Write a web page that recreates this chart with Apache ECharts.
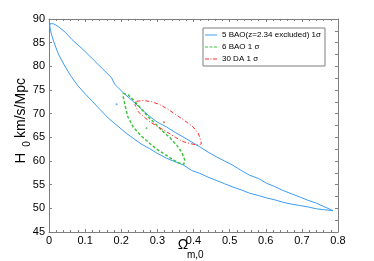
<!DOCTYPE html>
<html>
<head>
<meta charset="utf-8">
<script src="https://cdn.jsdelivr.net/npm/echarts@6/dist/echarts.min.js"></script>
<style>html,body{margin:0;padding:0;background:#fff}#c{width:374px;height:261px}</style>
</head>
<body>
<div id="c"></div>
<script>
// ---- data ----
var xTicks = [0, 0.1, 0.2, 0.3, 0.4, 0.5, 0.6, 0.7, 0.8];
var yTicks = [45, 50, 55, 60, 65, 70, 75, 80, 85, 90];
var legendNames = ['5 BAO(z=2.34 excluded) 1σ', '6 BAO 1 σ', '30 DA 1 σ'];

// 5 BAO contour (closed): Omega_m values and H0 values
var baoOm = [0.003,0.012,0.026,0.045,0.063,0.099,0.136,0.173,0.182,0.207,0.233,0.255,0.279,0.300,0.325,0.350,0.371,0.395,0.417,0.440,0.463,0.486,0.509,0.532,0.555,0.580,0.602,0.625,0.647,0.670,0.694,0.717,0.740,0.760,0.775,0.786,
             0.775,0.763,0.740,0.717,0.694,0.670,0.647,0.625,0.602,0.580,0.555,0.532,0.509,0.486,0.463,0.440,0.417,0.395,0.371,0.350,0.325,0.300,0.279,0.255,0.233,0.210,0.187,0.165,0.141,0.120,0.100,0.080,0.060,0.042,0.026,0.014,0.006,0.002,0.003];
var baoH  = [89.0,89.0,88.4,87.2,85.7,83.2,80.4,77.6,76.2,74.3,72.6,71.0,69.4,68.2,67.2,66.0,65.1,64.0,63.0,61.9,60.9,60.0,59.1,58.0,57.0,56.3,55.3,54.6,53.8,53.1,52.4,51.7,51.1,50.4,49.9,49.5,
             49.6,49.7,49.9,50.3,50.6,50.9,51.3,51.8,52.2,52.7,53.2,53.9,54.5,55.2,55.9,56.6,57.4,58.0,59.2,59.8,60.6,61.6,62.6,63.6,64.8,66.1,67.6,69.0,70.9,72.6,74.2,75.9,78.0,80.3,82.6,85.0,87.0,88.5,89.0];
var baoBestOm = [0.187];
var baoBestH = [72.0];

// 6 BAO contour
var bao6Om = [0.205,0.219,0.242,0.260,0.279,0.298,0.316,0.335,0.353,0.368,0.376,0.373,0.362,0.345,0.325,0.300,0.279,0.255,0.233,0.218,0.210,0.206,0.205];
var bao6H  = [74.3,74.0,72.2,70.6,69.0,67.6,66.2,64.9,63.4,61.8,60.2,59.3,59.5,60.2,61.2,62.4,63.7,65.3,67.2,69.4,71.9,73.4,74.3];
var bao6BestOm = [0.270];
var bao6BestH = [66.9];

// 30 DA contour
var daOm = [0.242,0.261,0.285,0.307,0.330,0.353,0.376,0.399,0.412,0.417,0.422,0.416,0.408,0.390,0.371,0.350,0.325,0.300,0.279,0.260,0.247,0.238,0.242];
var daH  = [72.6,72.8,72.5,71.9,70.9,69.7,68.5,67.2,66.0,65.1,63.7,63.4,63.4,63.7,64.1,65.0,66.2,67.3,68.3,69.5,70.4,71.9,72.6];
var daBestOm = [0.318];
var daBestH = [68.2];

function pairs(a, b){ return a.map(function(v,i){ return [v, b[i]]; }); }

var BLUE = '#3d9cf5', GREEN = '#3cc43c', RED = '#ff2b2b', AX = '#7f7f7f';
var FONT = 'Liberation Sans';

var ICON_SOLID = 'path://M0,0h12v1h-12z';
var ICON_DASH = 'path://M0,0h3v1h-3zM4.5,0h3v1h-3zM9,0h3v1h-3z';
var ICON_DASHDOT = 'path://M0,0h4v1h-4zM5.5,0h1v1h-1zM8,0h4v1h-4z';

var chart = echarts.init(document.getElementById('c'), null, {renderer:'canvas'});
function xAx(pos, showLabel){
  return {
    type:'value', position:pos, min:xTicks[0], max:xTicks[xTicks.length-1], interval:0.1,
    axisLine:{show:true, onZero:false, lineStyle:{color:AX, width:1}},
    axisTick:{show:true, inside:true, length:3, lineStyle:{color:AX}},
    minorTick:{show:true, splitNumber:5, length:2, lineStyle:{color:AX}},
    splitLine:{show:false}, minorSplitLine:{show:false},
    axisLabel:{show:showLabel, color:'#000', fontSize:11, fontFamily:FONT, margin:3,
      formatter:function(v){ return String(Math.round(v*10)/10); }}
  };
}
function yAx(pos, showLabel, minor){
  return {
    type:'value', position:pos, min:yTicks[0], max:yTicks[yTicks.length-1], interval:5,
    axisLine:{show:true, onZero:false, lineStyle:{color:AX, width:1}},
    axisTick:{show:true, inside:true, length:3, lineStyle:{color:AX}},
    minorTick:{show:minor, splitNumber:2, length:3, lineStyle:{color:AX}},
    splitLine:{show:false}, minorSplitLine:{show:false},
    axisLabel:{show:showLabel, color:'#000', fontSize:11, fontFamily:FONT, margin:4}
  };
}

chart.setOption({
  animation:false,
  backgroundColor:'#fff',
  grid:{left:49, right:36, top:19, bottom:29},
  xAxis:[xAx('bottom', true), xAx('top', false)],
  yAxis:[yAx('left', true, false), yAx('right', false, true)],
  legend:{
    show:true, orient:'vertical', left:203, top:28,
    data:[
      {name:legendNames[0], icon:ICON_SOLID},
      {name:legendNames[1], icon:ICON_DASH},
      {name:legendNames[2], icon:ICON_DASHDOT}
    ],
    itemWidth:12, itemHeight:1.5, itemGap:2, padding:[2,4,2,2],
    backgroundColor:'#fff', borderColor:AX, borderWidth:1, borderRadius:0,
    itemStyle:{borderWidth:0},
    textStyle:{fontSize:8, fontFamily:FONT, color:'#000', lineHeight:10},
    selectedMode:false
  },
  series:[
    {name:legendNames[0], type:'line', data:pairs(baoOm, baoH), symbol:'none', showSymbol:false,
     lineStyle:{color:BLUE, width:1}, itemStyle:{color:BLUE}},
    {name:legendNames[1], type:'line', data:pairs(bao6Om, bao6H), symbol:'none', showSymbol:false,
     lineStyle:{color:GREEN, width:1.5, type:[3,2]}, itemStyle:{color:GREEN}},
    {name:legendNames[2], type:'line', data:pairs(daOm, daH), symbol:'none', showSymbol:false,
     lineStyle:{color:RED, width:1, type:[4,2,1,2]}, itemStyle:{color:RED}},
    {name:'b1', type:'scatter', data:pairs(baoBestOm, baoBestH), symbol:'circle', symbolSize:2, itemStyle:{color:BLUE}},
    {name:'b2', type:'scatter', data:pairs(bao6BestOm, bao6BestH), symbol:'circle', symbolSize:2, itemStyle:{color:GREEN}},
    {name:'b3', type:'scatter', data:pairs(daBestOm, daBestH), symbol:'circle', symbolSize:2, itemStyle:{color:RED}}
  ],
  graphic:[
    {type:'text', x:21, y:158, rotation:Math.PI/2, style:{text:'H', fontSize:15, fontFamily:FONT, fill:'#000', align:'center', verticalAlign:'middle'}},
    {type:'text', x:27, y:144, rotation:Math.PI/2, style:{text:'0', fontSize:10, fontFamily:FONT, fill:'#000', align:'center', verticalAlign:'middle'}},
    {type:'text', x:21, y:108, rotation:Math.PI/2, style:{text:'km/s/Mpc', fontSize:14, fontFamily:FONT, fill:'#000', align:'center', verticalAlign:'middle'}},
    {type:'text', x:183, y:245, style:{text:'Ω', fontSize:14, fontFamily:FONT, fill:'#000', align:'center', verticalAlign:'middle'}},
    {type:'text', x:187, y:255, style:{text:'m,0', fontSize:10, fontFamily:FONT, fill:'#000', align:'left', verticalAlign:'middle'}}
  ]
});
</script>
</body>
</html>
